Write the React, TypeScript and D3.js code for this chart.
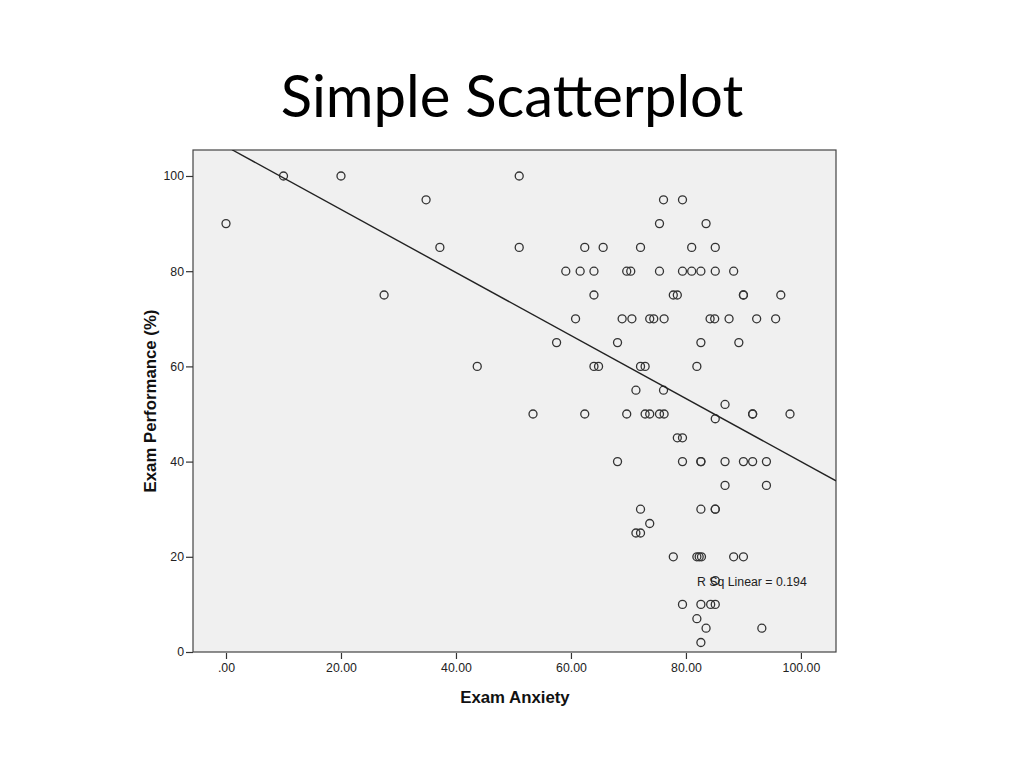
import React, { useEffect, useRef } from 'react';
import * as d3 from 'd3';

// Values
const anxiety = [
  10.0, 20.0, 51.0,
  34.8, 76.1, 79.4,
  0.0, 75.4, 83.5,
  37.2, 51.0, 62.4, 65.6, 72.1, 81.0, 85.1,
  59.1, 61.6, 64.0, 69.7, 70.4, 75.4, 79.4, 81.0, 82.6, 85.1, 88.3,
  27.5, 64.0, 77.8, 78.5, 90.0, 90.0, 96.5,
  60.8, 68.9, 70.6, 73.7, 74.4, 76.2, 84.2, 85.0, 87.5, 92.3, 95.6,
  57.5, 68.1, 82.6, 89.2,
  43.7, 64.0, 64.8, 72.1, 72.9, 81.9,
  71.3, 76.1,
  86.8,
  53.4, 62.4, 69.7, 72.9, 73.7, 75.4, 76.2, 91.6, 91.6, 98.1,
  85.1,
  78.5, 79.4,
  68.1, 79.4, 82.6, 82.6, 86.8, 90.0, 91.6, 94.0,
  86.8, 94.0,
  72.1, 82.6, 85.1, 85.1,
  73.7,
  71.3, 72.1,
  77.8, 81.9, 82.3, 82.7, 88.3, 90.0,
  85.1,
  79.4, 82.6, 84.3, 85.1,
  81.9,
  83.5, 93.2,
  82.6,
];

const performance = [
  100, 100, 100,
  95, 95, 95,
  90, 90, 90,
  85, 85, 85, 85, 85, 85, 85,
  80, 80, 80, 80, 80, 80, 80, 80, 80, 80, 80,
  75, 75, 75, 75, 75, 75, 75,
  70, 70, 70, 70, 70, 70, 70, 70, 70, 70, 70,
  65, 65, 65, 65,
  60, 60, 60, 60, 60, 60,
  55, 55,
  52,
  50, 50, 50, 50, 50, 50, 50, 50, 50, 50,
  49,
  45, 45,
  40, 40, 40, 40, 40, 40, 40, 40,
  35, 35,
  30, 30, 30, 30,
  27,
  25, 25,
  20, 20, 20, 20, 20, 20,
  15,
  10, 10, 10, 10,
  7,
  5, 5,
  2,
];

const xTicks = [0, 20, 40, 60, 80, 100];
const yTicks = [0, 20, 40, 60, 80, 100];

// Linear fit shown in the chart
const fitIntercept = 106.2;
const fitSlope = -0.662;
const rSquared = 0.194;

const sans = 'Arial, "Liberation Sans", sans-serif';

const App: React.FC = () => {
  const svgRef = useRef<SVGSVGElement | null>(null);

  useEffect(() => {
    if (!svgRef.current) return;
    const svg = d3.select(svgRef.current);
    svg.selectAll('*').remove();

    const left = 193;
    const right = 836;
    const top = 150;
    const bottom = 652;

    const x = d3.scaleLinear().domain([-5.74, 106.1]).range([left, right]);
    const y = d3.scaleLinear().domain([0, 105.46]).range([bottom, top]);

    // Title
    svg
      .append('text')
      .attr('x', 512)
      .attr('y', 117)
      .attr('text-anchor', 'middle')
      .style('font-family', 'Lato, "Open Sans", sans-serif')
      .style('font-size', '58px')
      .attr('fill', '#000')
      .text('Simple Scatterplot');

    // Plot background
    svg
      .append('rect')
      .attr('x', left)
      .attr('y', top)
      .attr('width', right - left)
      .attr('height', bottom - top)
      .attr('fill', '#f0f0f0')
      .attr('stroke', '#444')
      .attr('stroke-width', 1.2);

    const plot = svg.append('g');

    // Points
    plot
      .selectAll('circle')
      .data(anxiety.map((a, i) => ({ a, p: performance[i] })))
      .enter()
      .append('circle')
      .attr('cx', (d) => x(d.a))
      .attr('cy', (d) => y(d.p))
      .attr('r', 4)
      .attr('fill', 'none')
      .attr('stroke', '#333')
      .attr('stroke-width', 1.3);

    // Fit line
    const fitDomain = [1.04, 106.1];
    plot
      .append('clipPath')
      .attr('id', 'clip')
      .append('rect')
      .attr('x', left)
      .attr('y', top)
      .attr('width', right - left)
      .attr('height', bottom - top);
    plot
      .append('line')
      .attr('clip-path', 'url(#clip)')
      .attr('x1', x(fitDomain[0]))
      .attr('y1', y(fitIntercept + fitSlope * fitDomain[0]))
      .attr('x2', x(fitDomain[1]))
      .attr('y2', y(fitIntercept + fitSlope * fitDomain[1]))
      .attr('stroke', '#222')
      .attr('stroke-width', 1.4);

    svg
      .append('text')
      .attr('x', 697)
      .attr('y', 586)
      .style('font-family', sans)
      .style('font-size', '12.3px')
      .attr('fill', '#222')
      .text(`R Sq Linear = ${rSquared}`);

    // Y axis
    const yAxis = svg
      .append('g')
      .attr('transform', `translate(${left},0)`)
      .call(d3.axisLeft(y).tickValues(yTicks).tickSize(7).tickPadding(2).tickSizeOuter(0));
    yAxis.select('.domain').remove();
    yAxis.selectAll('line').attr('stroke', '#333').attr('stroke-width', 1.2);
    yAxis
      .selectAll('text')
      .style('font-family', sans)
      .style('font-size', '12.3px')
      .attr('fill', '#222');

    // X axis
    const xAxis = svg
      .append('g')
      .attr('transform', `translate(0,${bottom})`)
      .call(
        d3
          .axisBottom(x)
          .tickValues(xTicks)
          .tickSize(7)
          .tickPadding(4)
          .tickFormat((d) => (d === 0 ? '.00' : d3.format('.2f')(d as number))),
      );
    xAxis.select('.domain').remove();
    xAxis.selectAll('line').attr('stroke', '#333').attr('stroke-width', 1.2).attr('y1', 1);
    xAxis
      .selectAll('text')
      .style('font-family', sans)
      .style('font-size', '12.3px')
      .attr('fill', '#222');

    // Axis labels
    svg
      .append('text')
      .attr('transform', `translate(156,${(top + bottom) / 2}) rotate(-90)`)
      .attr('text-anchor', 'middle')
      .style('font-family', sans)
      .style('font-size', '16.8px')
      .style('font-weight', 'bold')
      .attr('fill', '#111')
      .text('Exam Performance (%)');

    svg
      .append('text')
      .attr('x', 515)
      .attr('y', 703)
      .attr('text-anchor', 'middle')
      .style('font-family', sans)
      .style('font-size', '16.8px')
      .style('font-weight', 'bold')
      .attr('fill', '#111')
      .text('Exam Anxiety');
  }, []);

  return (
    <svg
      ref={svgRef}
      width={1024}
      height={768}
      style={{ position: 'absolute', left: 0, top: 0, background: '#fff' }}
    />
  );
};

export default App;
